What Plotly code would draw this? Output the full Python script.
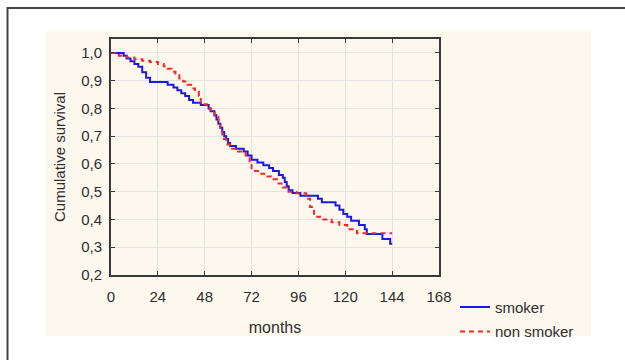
import plotly.graph_objects as go

# Smoker (blue) Kaplan-Meier steps: month, survival after event
smoker_months = [0, 6.5, 8, 10, 12, 14, 16, 18, 20, 29, 32, 34, 36, 38, 40, 42, 46, 50, 51, 53, 54, 55, 56, 57, 58,
                 59, 60, 61, 64, 68, 70, 72, 75, 78, 81, 83, 86, 88, 89, 90, 91, 93, 97, 106, 108, 115, 117, 119,
                 121, 123, 127, 130, 131, 139, 143, 144]
smoker_surv = [1.0, 0.99, 0.98, 0.97, 0.96, 0.95, 0.93, 0.91, 0.895, 0.885, 0.875, 0.865, 0.855, 0.845, 0.83, 0.82,
               0.812, 0.80, 0.79, 0.775, 0.76, 0.745, 0.73, 0.715, 0.70, 0.69, 0.675, 0.665, 0.655, 0.645, 0.63,
               0.615, 0.605, 0.595, 0.585, 0.575, 0.56, 0.55, 0.535, 0.52, 0.505, 0.495, 0.485, 0.475, 0.462, 0.45,
               0.435, 0.42, 0.41, 0.395, 0.38, 0.365, 0.348, 0.33, 0.313, 0.313]

# Non smoker (red dashed)
nonsmoker_months = [0, 4, 8, 12, 16, 20, 24, 27, 29, 31, 33, 35, 37, 39, 41, 43, 45, 46, 49, 51, 53, 55, 56, 57, 59,
                    61, 65, 69, 71, 72, 76, 79, 82, 85, 88, 91, 95, 100, 102, 104, 107, 113, 117, 121, 126, 144]
nonsmoker_surv = [1.0, 0.99, 0.983, 0.977, 0.972, 0.967, 0.96, 0.952, 0.943, 0.932, 0.92, 0.908, 0.897, 0.885, 0.872,
                  0.86, 0.845, 0.815, 0.80, 0.785, 0.77, 0.75, 0.73, 0.69, 0.67, 0.655, 0.645, 0.63, 0.61, 0.575,
                  0.565, 0.555, 0.545, 0.53, 0.515, 0.5, 0.494, 0.475, 0.445, 0.41, 0.40, 0.39, 0.38, 0.365, 0.35,
                  0.35]

x_ticks = [0, 24, 48, 72, 96, 120, 144, 168]
y_ticks = [0.2, 0.3, 0.4, 0.5, 0.6, 0.7, 0.8, 0.9, 1.0]

FONT = "Liberation Sans, Arial, sans-serif"
AX = "#3a3a3a"
TXT = "#2e2e2e"

fig = go.Figure()
fig.add_trace(go.Scatter(x=smoker_months, y=smoker_surv, mode="lines", line_shape="hv",
                         line=dict(color="#1a1ae0", width=2), name="smoker", legendgroup="a"))
fig.add_trace(go.Scatter(x=nonsmoker_months, y=nonsmoker_surv, mode="lines", line_shape="hv",
                         line=dict(color="#f02828", width=2, dash="5px,4px"), name="non smoker",
                         legendgroup="b"))

L, R, T, B = 111, 439, 39, 279
W, H = 625, 360
pw, ph = R - L, B - T

def px(x):
    return (x - L) / pw

def py(y):
    return (B - y) / ph

shapes = [
    # beige panel
    dict(type="rect", xref="paper", yref="paper", x0=px(46), x1=px(591), y0=py(341), y1=py(31),
         fillcolor="#fcf8ee", line=dict(width=0), layer="below"),
    # outer frame: rectangle whose right and bottom edges lie outside the canvas
    dict(type="rect", xref="paper", yref="paper", x0=px(7.5), x1=px(700), y0=py(420), y1=py(7.5),
         fillcolor="rgba(0,0,0,0)", line=dict(color="#444444", width=2), layer="above"),
]

fig.update_layout(
    width=W, height=H,
    margin=dict(l=L, r=W - R, t=T, b=H - B),
    paper_bgcolor="white",
    plot_bgcolor="white",
    separators=", ",
    font=dict(family=FONT, size=15, color=TXT),
    shapes=shapes,
    showlegend=True,
    legend=dict(x=px(455), y=py(295), xanchor="left", yanchor="top",
                bgcolor="rgba(0,0,0,0)", font=dict(size=15, family=FONT, color=TXT),
                tracegroupgap=2, itemwidth=30),
    xaxis=dict(range=[0, 168], tickvals=x_ticks, ticks="inside", ticklen=4, tickcolor=AX, tickwidth=1,
               showline=True, linecolor=AX, linewidth=2, mirror="ticks",
               showgrid=True, gridcolor="#e2e2e2", gridwidth=1, zeroline=False,
               ticklabelstandoff=7,
               tickfont=dict(size=15, family=FONT, color=TXT),
               title=dict(text="months", font=dict(size=16, family=FONT, color=TXT), standoff=18)),
    yaxis=dict(range=[0.2, 1.05], tickvals=y_ticks, tickformat=".1f", ticks="inside", ticklen=4,
               tickcolor=AX, tickwidth=1,
               showline=True, linecolor=AX, linewidth=2, mirror="ticks",
               showgrid=True, gridcolor="#e2e2e2", gridwidth=1, zeroline=False,
               ticklabelstandoff=4,
               tickfont=dict(size=15, family=FONT, color=TXT),
               title=dict(text="Cumulative survival", font=dict(size=15, family=FONT, color=TXT),
                          standoff=12)),
)

post = (
    "var s=document.createElement('style');"
    "s.textContent='html,body{margin:0;padding:0;overflow:hidden;}';"
    "document.head.appendChild(s);"
)
fig.write_html("out.html", config={"displayModeBar": False}, post_script=post)
